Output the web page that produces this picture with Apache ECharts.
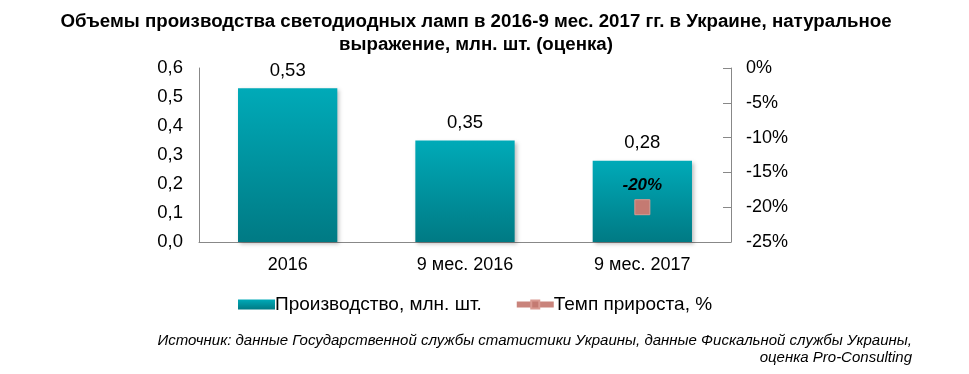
<!DOCTYPE html>
<html><head><meta charset="utf-8">
<script src="https://cdn.jsdelivr.net/npm/echarts@6/dist/echarts.min.js"></script>
<style>html,body{margin:0;padding:0;background:#fff}#c{width:969px;height:374px}</style>
</head><body><div id="c"></div>
<script>
var categories = ['2016', '9 мес. 2016', '9 мес. 2017'];
var production = [0.53, 0.35, 0.28];
var growth = [null, null, -20];
var leftTicks = [0, 0.1, 0.2, 0.3, 0.4, 0.5, 0.6];
var rightTicks = [-25, -20, -15, -10, -5, 0];

var F = '"Liberation Sans", Arial, sans-serif';
var NF = '"Liberation Sans Narrow", "Arial Narrow", ' + F;
var chart = echarts.init(document.getElementById('c'), null, {renderer: 'canvas'});
chart.setOption({
  animation: false,
  textStyle: {fontFamily: F},
  title: [{
    text: 'Объемы производства светодиодных ламп в 2016-9 мес. 2017 гг. в Украине, натуральное\nвыражение, млн. шт. (оценка)',
    left: 471, top: 5, textAlign: 'center',
    textStyle: {fontFamily: F, fontWeight: 'bold', fontSize: 18.7, color: '#000', lineHeight: 23}
  }],
  graphic: [{
    type: 'text', right: 57, top: 333,
    style: {
      text: 'Источник: данные Государственной службы статистики Украины, данные Фискальной службы Украины,',
      font: 'italic 15px ' + NF, fill: '#000'
    }
  }, {
    type: 'text', right: 57, top: 350,
    style: {
      text: 'оценка Pro-Consulting',
      font: 'italic 15px ' + NF, fill: '#000'
    }
  }],
  legend: {
    top: 290, left: 233, itemGap: 32, itemWidth: 37, itemHeight: 10,
    textStyle: {fontFamily: F, fontSize: 19, color: '#000', padding: [0, 0, 0, -5]},
    data: [{name: 'Производство, млн. шт.', icon: 'rect'},
           {name: 'Темп прироста, %', lineStyle: {width: 6, color: '#C9847C'}}]
  },
  grid: {left: 199, right: 238, top: 68, bottom: 132},
  xAxis: {
    type: 'category', data: categories,
    axisLine: {lineStyle: {color: '#888', width: 1}},
    axisTick: {show: false},
    axisLabel: {fontFamily: F, fontSize: 18, color: '#000', margin: 14}
  },
  yAxis: [{
    type: 'value', min: 0, max: 0.6, interval: 0.1,
    axisLine: {show: true, lineStyle: {color: '#888'}},
    axisTick: {show: false}, splitLine: {show: false},
    axisLabel: {fontFamily: F, fontSize: 18.5, color: '#000', margin: 16,
      formatter: function (v) { return v.toFixed(1).replace('.', ','); }}
  }, {
    type: 'value', min: -25, max: 0, interval: 5, position: 'right',
    axisLine: {show: true, lineStyle: {color: '#888'}},
    axisTick: {show: true, inside: true, length: 8, lineStyle: {color: '#888'}},
    splitLine: {show: false},
    axisLabel: {fontFamily: F, fontSize: 18, color: '#000', margin: 15,
      formatter: function (v) { return v + '%'; }}
  }],
  series: [{
    name: 'Производство, млн. шт.', type: 'bar', data: production, barWidth: '56%',
    itemStyle: {
      color: new echarts.graphic.LinearGradient(0, 0, 0, 1, [
        {offset: 0, color: '#00AAB8'}, {offset: 1, color: '#007A84'}]),
      shadowColor: 'rgba(0,0,0,0.25)', shadowBlur: 4, shadowOffsetX: 2, shadowOffsetY: 2
    },
    label: {show: true, position: 'top', distance: 8, fontFamily: F, fontSize: 18.5, color: '#000',
      formatter: function (p) { return p.value.toFixed(2).replace('.', ','); }}
  }, {
    name: 'Темп прироста, %', type: 'line', yAxisIndex: 1, data: growth,
    symbol: 'rect', symbolSize: 15,
    lineStyle: {color: '#C9847C', width: 6},
    itemStyle: {color: '#C47A72', borderColor: '#D99A92', borderWidth: 1},
    label: {show: true, position: 'top', distance: 5, fontFamily: F, fontSize: 17,
      fontWeight: 'bold', fontStyle: 'italic', color: '#000',
      formatter: function (p) { return p.value + '%'; }}
  }]
});
</script></body></html>
